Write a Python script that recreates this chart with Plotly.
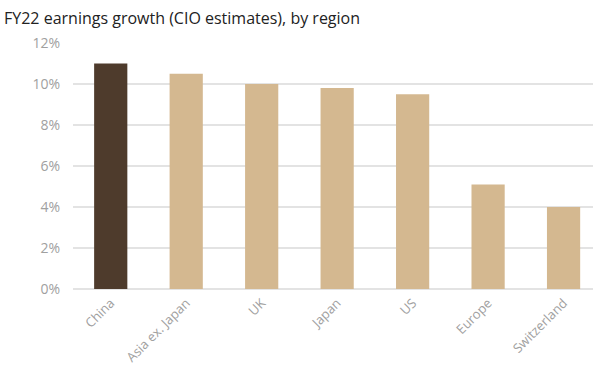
import plotly.graph_objects as go

regions = ["China", "Asia ex. Japan", "UK", "Japan", "US", "Europe", "Switzerland"]
growth = [11.0, 10.5, 10.0, 9.8, 9.5, 5.1, 4.0]
bar_colors = ["#4e3b2c"] + ["#d4b890"] * 6
y_ticks = [0, 2, 4, 6, 8, 10, 12]
y_tick_labels = [f"{v}%" for v in y_ticks]

fig = go.Figure(go.Bar(
    x=regions, y=growth,
    marker=dict(color=bar_colors, line=dict(width=0)),
    hoverinfo="x+y",
))

fig.update_layout(
    width=593, height=368,
    margin=dict(l=73, r=0, t=43, b=79, autoexpand=False),
    paper_bgcolor="white", plot_bgcolor="white",
    bargap=0.56,
    showlegend=False,
    font=dict(family="Open Sans", color="#999999"),
    title=dict(
        text="FY22 earnings growth (CIO estimates), by region",
        x=0.0, xanchor="left", y=0.95, yanchor="middle",
        pad=dict(l=4, t=0, b=0, r=0),
        font=dict(family="Open Sans", size=16, color="#222222"),
    ),
)
fig.update_xaxes(
    range=[-0.5, 6.39], tickangle=-45, showgrid=False, showline=False,
    tickfont=dict(size=13, color="#a0a0a0"), ticks="", automargin=False,
    ticklabelstandoff=3,
)
fig.update_yaxes(
    range=[0, 12], tickvals=y_ticks, ticktext=y_tick_labels,
    showgrid=True, gridcolor="#e3e3e3", gridwidth=1.5, zeroline=True,
    zerolinecolor="#e3e3e3", zerolinewidth=1.5, showline=False,
    tickfont=dict(size=14, color="#a0a0a0"), ticks="", ticklabelstandoff=12,
    automargin=False,
)

fig.write_html(
    "out.html",
    config={"displayModeBar": False},
    post_script="document.body.style.margin='0';document.body.style.overflow='hidden';",
)
